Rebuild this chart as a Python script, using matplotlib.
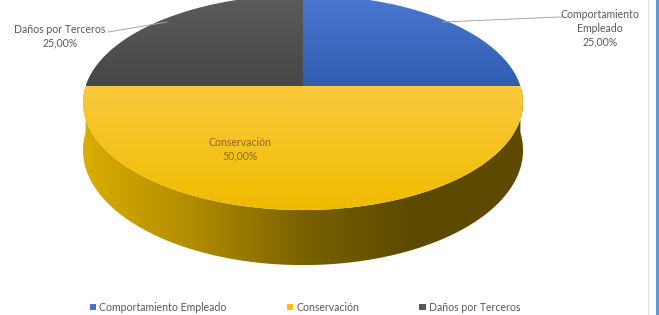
import numpy as np
import matplotlib
matplotlib.use('Agg')
import matplotlib.pyplot as plt
from matplotlib.patches import Polygon, Patch
from matplotlib.colors import LinearSegmentedColormap
from matplotlib.lines import Line2D

# ------------------------------------------------------------------
# DATA
# ------------------------------------------------------------------
categories = ['Comportamiento Empleado', 'Conservación', 'Daños por Terceros']
values = [25.0, 50.0, 25.0]
label_text = ['Comportamiento\nEmpleado\n25,00%', 'Conservación\n50,00%', 'Daños por Terceros\n25,00%']

# ------------------------------------------------------------------
# SETTINGS
# ------------------------------------------------------------------
W, H = 659, 315
cx, cy = 303.0, 86.0      # projected centre of the top face (pixels)
rx, ry = 217.4, 105.0     # ellipse radii
k = 0.1535                # perspective strength
depth = 46.6              # thickness of the pie
fontsize = 7.6
font = ['Lato', 'DejaVu Sans']
txtcol = '#595959'

top_cols = [('#4b79d2', '#2f5db0'), ('#fbc93e', '#f0bc00'), ('#5c5c5c', '#464646')]
legend_cols = ['#4472c4', '#ffc000', '#595959']
side_cols = ['#d9ad00', '#b08c00', '#7a6200', '#5c4900', '#5e4a00']

# ------------------------------------------------------------------
# METHODS
# ------------------------------------------------------------------
def proj(t, z=0.0):
    s = 1.0 / (1.0 + k * np.sin(t))
    return cx + rx * np.cos(t) * s, cy - ry * np.sin(t) * s + z * s

def gradient_fill(ax, verts, cols, horizontal=False):
    poly = Polygon(verts, closed=True, facecolor='none', edgecolor='none')
    ax.add_patch(poly)
    x0, y0 = verts.min(axis=0)
    x1, y1 = verts.max(axis=0)
    cmap = LinearSegmentedColormap.from_list('g', cols)
    g = np.linspace(0, 1, 256)
    arr = g[None, :] if horizontal else g[:, None]
    im = ax.imshow(arr, cmap=cmap, extent=(x0, x1, y1, y0), aspect='auto',
                   interpolation='bilinear', zorder=poly.get_zorder())
    im.set_clip_path(poly)

# ------------------------------------------------------------------
# PLOT
# ------------------------------------------------------------------
fig = plt.figure(figsize=(W / 100, H / 100), dpi=100)
ax = fig.add_axes([0, 0, 1, 1])
ax.set_xlim(0, W)
ax.set_ylim(H, 0)
ax.axis('off')

# side wall (front half)
tt = np.linspace(np.pi, 2 * np.pi, 200)
xt, yt = proj(tt)
xb, yb = proj(tt[::-1], depth)
side = np.column_stack([np.r_[xt, xb], np.r_[yt, yb]])
gradient_fill(ax, side, side_cols, horizontal=True)

# top faces, clockwise from 12 o'clock
fracs = np.array(values) / sum(values)
start = np.pi / 2
for i, f in enumerate(fracs):
    end = start - 2 * np.pi * f
    ts = np.linspace(start, end, 200)
    xs, ys = proj(ts)
    verts = np.column_stack([np.r_[cx, xs], np.r_[cy, ys]])
    gradient_fill(ax, verts, top_cols[i])
    start = end

# data labels
ax.text(600, 28, label_text[0], ha='center', va='center', fontsize=fontsize,
        color=txtcol, family=font, linespacing=1.3)
ax.text(240, 149, label_text[1], ha='center', va='center', fontsize=fontsize,
        color='#8a6d12', family=font, linespacing=1.3)
ax.text(60, 36, label_text[2], ha='center', va='center', fontsize=fontsize,
        color=txtcol, family=font, linespacing=1.3)

# leader lines
ax.plot([563, 560, 443], [17, 17, 22], color='#a6a6a6', lw=0.7)
ax.plot([108, 167], [32, 22], color='#a6a6a6', lw=0.7)

# legend
handles = [Patch(facecolor=c, edgecolor='none') for c in legend_cols]
fig.legend(handles, categories, loc='center', bbox_to_anchor=(0.463, 0.025),
           ncol=3, frameon=False, handlelength=0.6, handleheight=0.6,
           handletextpad=0.3, columnspacing=5.7,
           prop={'family': font, 'size': fontsize}, labelcolor=txtcol)

# chart border lines on the right
fig.add_artist(Line2D([648 / W, 648 / W], [0, 1], color='#e3e3e3', lw=0.8))
fig.add_artist(Line2D([657 / W, 657 / W], [0, 1], color='#5b9bd5', lw=2.2))

plt.savefig('out.png', dpi=100)
